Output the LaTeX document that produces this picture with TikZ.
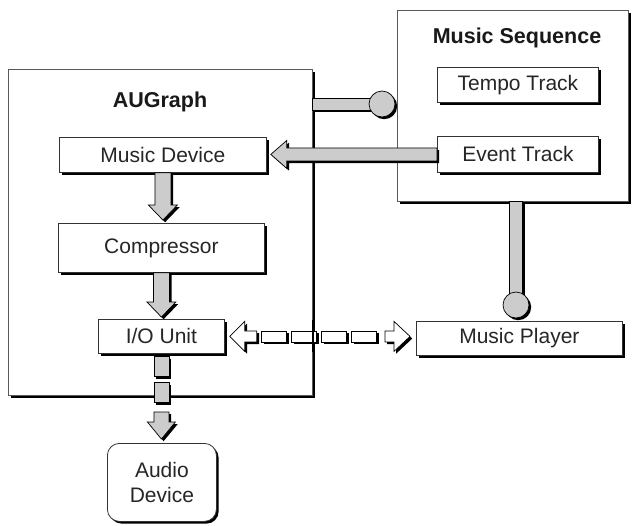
\documentclass[tikz,border=0pt]{standalone}
\usepackage{fontspec}
\setmainfont{Liberation Sans}
\usetikzlibrary{shadows,calc}

\tikzset{
  shade/.style={drop shadow={shadow xshift=2.2pt,shadow yshift=-2.2pt,fill=black,opacity=1}},
  frame/.style={draw=black!65, line width=0.8pt, fill=white, shade, anchor=north west, inner sep=0pt},
  box/.style={draw=black!80, line width=0.8pt, fill=white, shade, anchor=north west, inner sep=0pt,
    align=center, text=black!85, font=\fontsize{21}{25}\selectfont},
  title/.style={text=black!90, font=\bfseries\fontsize{21.5}{25}\selectfont},
  fat/.style={fill=black!20, draw=black, line width=0.7pt, shade, line join=miter},
  hollow/.style={fill=white, draw=black, line width=0.7pt, shade, line join=miter},
}

\begin{document}
\begin{tikzpicture}[x=1pt,y=-1pt]
\useasboundingbox (0,0) rectangle (637,525);

% container frames
\node[frame, minimum width=304pt, minimum height=326pt] (aug) at (8,69) {};
\node[title] (augt) at (160,102) {AUGraph};
\node[frame, minimum width=231pt, minimum height=191pt] (ms) at (397,10) {};
\node[title] (mst) at (517,38) {Music Sequence};

% knob connectors
\coordinate (knobA) at (382,104);
\coordinate (knobB) at (516,305);
\draw[fat] let \p1=(aug.east), \p2=(knobA) in
  (\x1,\y2+6pt) rectangle (\x2,\y2-6pt);
\draw[fat] (knobA) circle (13);
\draw[fat] let \p1=(ms.south), \p2=(knobB) in
  (\x2-6.5pt,\y1) rectangle (\x2+6.5pt,\y2);
\draw[fat] (knobB) circle (13);

% inner boxes
\node[box, minimum width=161pt, minimum height=35pt] (tt) at (437,67) {Tempo Track};
\node[box, minimum width=161pt, minimum height=36pt] (et) at (437,136) {Event Track};
\node[box, minimum width=207pt, minimum height=35pt] (md) at (59,137) {Music Device};
\node[box, minimum width=206pt, minimum height=49pt] (cp) at (58,223) {Compressor};
\node[box, minimum width=126pt, minimum height=34pt] (io) at (98,319) {I/O Unit};
\node[box, minimum width=206pt, minimum height=34pt] (mp) at (416,321) {Music Player};
\node[box, rounded corners=12pt, minimum width=109pt, minimum height=78pt] (ad) at (107,443)
  {Audio\\Device};

% Event Track -> Music Device
\draw[fat] let \p1=(et.west), \p2=(md.east) in
  (\x1,\y1+6.5pt) -- (\x2+20pt,\y1+6.5pt) -- (\x2+20pt,\y1+14pt) -- (\x2+4pt,\y1)
  -- (\x2+20pt,\y1-14pt) -- (\x2+20pt,\y1-6.5pt) -- (\x1,\y1-6.5pt) -- cycle;

% Music Device -> Compressor -> I/O Unit
\draw[fat] let \p1=(md.south), \p2=(cp.north) in
  (\x1-8pt,\y1) -- (\x1-8pt,\y2+18pt) -- (\x1-14.5pt,\y2+18pt) -- (\x1,\y2+3pt)
  -- (\x1+14.5pt,\y2+18pt) -- (\x1+8pt,\y2+18pt) -- (\x1+8pt,\y1) -- cycle;
\draw[fat] let \p1=(cp.south), \p2=(io.north) in
  (\x1-8pt,\y1) -- (\x1-8pt,\y2+17pt) -- (\x1-14.5pt,\y2+17pt) -- (\x1,\y2+2pt)
  -- (\x1+14.5pt,\y2+17pt) -- (\x1+8pt,\y2+17pt) -- (\x1+8pt,\y1) -- cycle;

% I/O Unit -> Audio Device (dashed block arrow)
\draw[fat] let \p1=(io.south) in
  (\x1-7.5pt,\y1-3pt) rectangle (\x1+7.5pt,\y1-23pt);
\draw[fat] let \p1=(io.south) in
  (\x1-7.5pt,\y1-29pt) rectangle (\x1+7.5pt,\y1-49pt);
\draw[fat] let \p1=(io.south), \p2=(ad.north) in
  (\x1-7.5pt,\y2+31pt) -- (\x1-7.5pt,\y2+21pt) -- (\x1-14pt,\y2+21pt) -- (\x1,\y2+4pt)
  -- (\x1+14pt,\y2+21pt) -- (\x1+7.5pt,\y2+21pt) -- (\x1+7.5pt,\y2+31pt) -- cycle;

% I/O Unit <-> Music Player (dashed hollow double arrow)
\draw[hollow] let \p1=(io.east) in
  (\x1+5pt,\y1) -- (\x1+20pt,\y1+15pt) -- (\x1+20pt,\y1+5.5pt) -- (\x1+32pt,\y1+5.5pt)
  -- (\x1+32pt,\y1-5.5pt) -- (\x1+20pt,\y1-5.5pt) -- (\x1+20pt,\y1-15pt) -- cycle;
\foreach \k in {0,1,2,3}{
  \draw[hollow] let \p1=(io.east) in
    (\x1+37pt+30*\k pt,\y1+5.5pt) rectangle (\x1+62pt+30*\k pt,\y1-5.5pt);
}
\draw[hollow] let \p1=(io.east), \p2=(mp.west) in
  (\x2-6pt,\y1) -- (\x2-22pt,\y1+15pt) -- (\x2-22pt,\y1+5.5pt) -- (\x2-31pt,\y1+5.5pt)
  -- (\x2-31pt,\y1-5.5pt) -- (\x2-22pt,\y1-5.5pt) -- (\x2-22pt,\y1-15pt) -- cycle;

% right border of the AUGraph frame runs over the crossing connector
\draw[draw=black, line width=1.6pt] let \p1=(aug.north east), \p2=(io.east) in
  (\x1+0.4pt,\y2-16pt) -- (\x1+0.4pt,\y2+16pt);
\end{tikzpicture}
\end{document}
